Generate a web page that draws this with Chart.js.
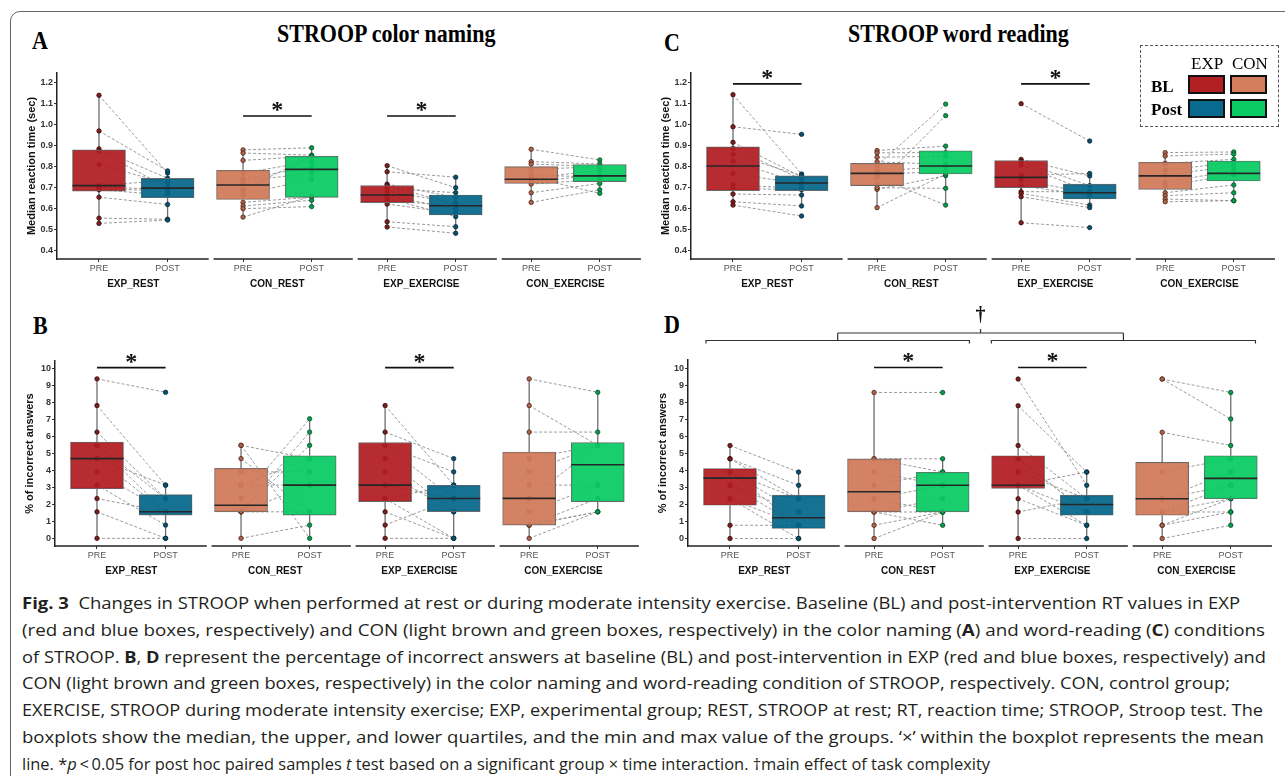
<!DOCTYPE html>
<html>
<head>
<meta charset="utf-8">
<script src="https://cdn.jsdelivr.net/npm/chart.js@4.4.0/dist/chart.umd.min.js"></script>
<style>
  body { margin: 0; background: #fff; width: 1285px; height: 776px; overflow: hidden; position: relative; font-family: 'Liberation Sans', Arial, sans-serif; }
  .frame { position: absolute; left: 10px; top: 11px; width: 1300px; height: 775px; border: 1px solid #666; border-radius: 10px; }
  .chart { position: absolute; }
  .serif { position: absolute; font-family: 'Liberation Serif', 'Times New Roman', serif; font-weight: bold; font-size: 22px; line-height: 22px; color: #000; white-space: nowrap; transform: scaleY(1.12); transform-origin: left bottom; }
  .legend { position: absolute; left: 1140px; top: 45px; width: 137px; height: 80px; border: 1.5px dashed #555; }
  .lg { position: absolute; font-family: 'Liberation Serif', 'Times New Roman', serif; font-size: 17px; line-height: 17px; color: #000; }
  .sw { position: absolute; width: 33px; height: 15px; border: 2px solid #111; }
  .cl { position: absolute; left: 22px; white-space: nowrap; font-family: 'Open Sans', 'Noto Sans', sans-serif; font-size: 16px; line-height: 22px; color: #231f20; transform-origin: left center; }
  .cl b { font-weight: 700; }
</style>
</head>
<body>
<div class="frame"></div>

<div class="serif" style="left:32px;top:31px">A</div>
<div class="serif" style="left:277px;top:24px">STROOP color naming</div>
<div class="serif" style="left:664px;top:33px">C</div>
<div class="serif" style="left:848px;top:24px">STROOP word reading</div>
<div class="serif" style="left:33px;top:316px">B</div>
<div class="serif" style="left:664px;top:315px">D</div>

<div class="chart" style="left:18px;top:45px"><canvas id="chartA" width="627" height="250"></canvas></div>
<div class="chart" style="left:652px;top:45px"><canvas id="chartC" width="626" height="250"></canvas></div>
<div class="chart" style="left:16px;top:330px"><canvas id="chartB" width="627" height="252"></canvas></div>
<div class="chart" style="left:649px;top:300px"><canvas id="chartD" width="629" height="282"></canvas></div>

<div class="legend">
  <div class="lg" style="left:50px;top:9px">EXP</div>
  <div class="lg" style="left:91px;top:9px">CON</div>
  <div class="lg" style="left:10px;top:32px;font-weight:bold">BL</div>
  <div class="lg" style="left:10px;top:55px;font-weight:bold">Post</div>
  <div class="sw" style="left:47px;top:29px;background:#b22024"></div>
  <div class="sw" style="left:89px;top:29px;background:#d27e5c"></div>
  <div class="sw" style="left:47px;top:53px;background:#076a8e"></div>
  <div class="sw" style="left:89px;top:53px;background:#0bcb65"></div>
</div>

<div id="caption">
  <div class="cl" data-w="1218"><b>Fig. 3</b>&nbsp; Changes in STROOP when performed at rest or during moderate intensity exercise. Baseline (BL) and post-intervention RT values in EXP</div>
  <div class="cl" data-w="1243">(red and blue boxes, respectively) and CON (light brown and green boxes, respectively) in the color naming (<b>A</b>) and word-reading (<b>C</b>) conditions</div>
  <div class="cl" data-w="1244">of STROOP. <b>B</b>, <b>D</b> represent the percentage of incorrect answers at baseline (BL) and post-intervention in EXP (red and blue boxes, respectively) and</div>
  <div class="cl" data-w="1208">CON (light brown and green boxes, respectively) in the color naming and word-reading condition of STROOP, respectively. CON, control group;</div>
  <div class="cl" data-w="1241">EXERCISE, STROOP during moderate intensity exercise; EXP, experimental group; REST, STROOP at rest; RT, reaction time; STROOP, Stroop test. The</div>
  <div class="cl" data-w="1242">boxplots show the median, the upper, and lower quartiles, and the min and max value of the groups. ‘×’ within the boxplot represents the mean</div>
  <div class="cl" data-w="968">line. *<i>p</i>&thinsp;&lt;&thinsp;0.05 for post hoc paired samples <i>t</i> test based on a significant group × time interaction. †main effect of task complexity</div>
</div>

<script>
'use strict';

const groups = ['EXP_REST', 'CON_REST', 'EXP_EXERCISE', 'CON_EXERCISE'];
const times = ['PRE', 'POST'];
const rtTicks = [0.4, 0.5, 0.6, 0.7, 0.8, 0.9, 1.0, 1.1, 1.2];
const errTicks = [0, 1, 2, 3, 4, 5, 6, 7, 8, 9, 10];

// A - median RT, color naming (rows = groups, same subject order pre/post)
const colorRtPre = [
  [1.14, 0.97, 0.885, 0.875, 0.81, 0.71, 0.705, 0.70, 0.69, 0.655, 0.555, 0.53],
  [0.88, 0.865, 0.83, 0.77, 0.74, 0.73, 0.69, 0.668, 0.63, 0.613, 0.60, 0.56],
  [0.805, 0.776, 0.717, 0.697, 0.681, 0.662, 0.638, 0.622, 0.538, 0.513, 0.71, 0.65],
  [0.883, 0.824, 0.813, 0.787, 0.744, 0.729, 0.717, 0.676, 0.63, 0.75, 0.76]
];
const colorRtPost = [
  [0.77, 0.78, 0.745, 0.70, 0.72, 0.735, 0.69, 0.68, 0.665, 0.62, 0.55, 0.546],
  [0.89, 0.855, 0.85, 0.825, 0.80, 0.77, 0.85, 0.74, 0.655, 0.64, 0.61, 0.66],
  [0.70, 0.75, 0.654, 0.676, 0.629, 0.598, 0.614, 0.578, 0.514, 0.483, 0.62, 0.562],
  [0.832, 0.813, 0.80, 0.80, 0.784, 0.76, 0.74, 0.72, 0.69, 0.673, 0.75]
];
// [whisker low, q1, median, q3, whisker high]
const colorRtBoxPre = [[0.53, 0.684, 0.71, 0.88, 1.14], [0.56, 0.644, 0.713, 0.783, 0.88], [0.513, 0.629, 0.665, 0.71, 0.805], [0.63, 0.72, 0.74, 0.80, 0.883]];
const colorRtBoxPost = [[0.546, 0.652, 0.698, 0.744, 0.78], [0.61, 0.654, 0.787, 0.85, 0.89], [0.483, 0.57, 0.614, 0.665, 0.75], [0.673, 0.729, 0.756, 0.81, 0.832]];
const colorRtSig = [1, 2];

// C - median RT, word reading
const wordRtPre = [
  [1.143, 0.99, 0.916, 0.887, 0.859, 0.827, 0.768, 0.713, 0.697, 0.67, 0.633, 0.617],
  [0.877, 0.866, 0.845, 0.823, 0.805, 0.78, 0.765, 0.716, 0.692, 0.605, 0.75, 0.70],
  [1.10, 0.835, 0.824, 0.808, 0.759, 0.737, 0.708, 0.681, 0.673, 0.657, 0.533],
  [0.867, 0.851, 0.816, 0.784, 0.76, 0.724, 0.71, 0.676, 0.662, 0.646, 0.633]
];
const wordRtPost = [
  [0.765, 0.954, 0.752, 0.74, 0.757, 0.72, 0.717, 0.697, 0.69, 0.665, 0.613, 0.565],
  [0.898, 0.867, 0.85, 0.811, 1.098, 0.80, 0.776, 1.043, 0.757, 0.765, 0.617, 0.697],
  [0.922, 0.756, 0.71, 0.681, 0.768, 0.673, 0.665, 0.681, 0.617, 0.605, 0.51],
  [0.87, 0.86, 0.835, 0.819, 0.803, 0.784, 0.76, 0.713, 0.676, 0.638, 0.638]
];
const wordRtBoxPre = [[0.617, 0.686, 0.803, 0.894, 1.143], [0.605, 0.71, 0.768, 0.816, 0.877], [0.533, 0.70, 0.749, 0.829, 0.835], [0.633, 0.692, 0.756, 0.821, 0.867]];
const wordRtBoxPost = [[0.613, 0.686, 0.722, 0.756, 0.765], [0.617, 0.765, 0.803, 0.876, 0.898], [0.605, 0.646, 0.676, 0.717, 0.768], [0.638, 0.732, 0.768, 0.827, 0.87]];
const wordRtSig = [0, 2];

// B - % incorrect, color naming
const colorErrPre = [
  [9.38, 7.81, 6.25, 5.47, 5.47, 4.69, 4.69, 3.91, 3.13, 2.34, 1.56, 0],
  [5.47, 5.47, 4.69, 3.91, 3.13, 3.13, 2.34, 1.56, 1.56, 1.56, 1.56, 0],
  [7.81, 6.25, 5.47, 5.47, 4.69, 3.91, 3.13, 2.34, 2.34, 1.56, 0.78, 0],
  [9.38, 7.81, 6.25, 4.69, 3.91, 3.13, 1.56, 0.78, 0.78, 0, 2.34, 0.78]
];
const colorErrPost = [
  [8.59, 3.13, 2.34, 1.56, 2.34, 3.13, 1.56, 1.56, 0.78, 1.56, 0, 0],
  [4.69, 0, 1.56, 3.91, 3.13, 4.69, 7.03, 6.25, 5.47, 1.56, 3.13, 0.78],
  [3.13, 4.69, 3.91, 2.34, 1.56, 1.56, 2.34, 3.13, 0, 0, 2.34, 0],
  [8.59, 5.47, 6.25, 5.47, 5.47, 3.13, 3.13, 2.34, 1.56, 1.56, 5.47, 1.56]
];
const colorErrBoxPre = [[0, 2.92, 4.69, 5.66, 9.38], [0, 1.56, 1.95, 4.12, 5.47], [0, 2.16, 3.13, 5.63, 7.81], [0, 0.78, 2.35, 5.08, 9.38]];
const colorErrBoxPost = [[0, 1.37, 1.56, 2.57, 3.13], [0, 1.37, 3.13, 4.86, 7.03], [0, 1.57, 2.34, 3.12, 4.69], [1.56, 2.16, 4.33, 5.63, 8.59]];
const colorErrSig = [0, 2];

// D - % incorrect, word reading
const wordErrPre = [
  [5.47, 4.69, 4.69, 3.91, 3.91, 3.91, 3.13, 2.34, 2.34, 0.78, 0, 3.13],
  [8.59, 4.69, 3.91, 3.13, 2.34, 2.34, 1.56, 1.56, 0.78, 0, 4.69, 1.56],
  [9.38, 7.81, 5.47, 4.69, 3.91, 3.13, 3.13, 2.34, 1.56, 0, 3.13, 4.69],
  [9.38, 9.38, 6.25, 3.91, 2.34, 2.34, 1.56, 1.56, 0.78, 0.78, 0, 1.56]
];
const wordErrPost = [
  [3.91, 3.13, 2.34, 0.78, 1.56, 2.34, 1.56, 0.78, 0, 0.78, 0, 0.78],
  [8.59, 4.69, 3.13, 3.91, 3.13, 1.56, 2.34, 1.56, 1.56, 1.56, 3.91, 0.78],
  [3.13, 3.91, 2.34, 1.56, 2.34, 1.56, 0.78, 0.78, 2.34, 0, 3.91, 1.56],
  [8.59, 7.03, 5.47, 4.69, 3.91, 3.13, 2.34, 3.13, 1.56, 2.34, 0.78, 1.56]
];
const wordErrBoxPre = [[0, 1.96, 3.55, 4.12, 5.47], [0, 1.57, 2.75, 4.68, 8.59], [0, 2.95, 3.13, 4.87, 7.81], [0, 1.37, 2.34, 4.48, 6.25]];
const wordErrBoxPost = [[0, 0.59, 1.22, 2.55, 3.91], [0.78, 1.57, 3.13, 3.9, 4.69], [0, 1.37, 2.0, 2.55, 3.91], [0.78, 2.34, 3.54, 4.87, 8.59]];
const wordErrSig = [1, 2];


// layout of the facets on one linear x scale
const FACET_STEP = 2.1;
const BOX_HALF = 0.386;
const PX_PER_UNIT = 68.6;
const X_MIN = 0.388;
const Y_WIDTH = 34;
const X_HEIGHT = 36;

const boxFill = {
  exp: ['rgba(176,28,32,0.93)', 'rgba(4,102,138,0.93)'],
  con: ['rgba(208,122,88,0.93)', 'rgba(8,202,98,0.93)']
};
const dotFill = { exp: ['#861b1b', '#0a4f6c'], con: ['#b0634a', '#0a9a4d'] };
const dotLine = { exp: ['#2b0d0d', '#072a3a'], con: ['#4a2214', '#064d27'] };

function facetX(k, t) {
  return 1 + t + FACET_STEP * k;
}

const facetDecor = {
  id: 'facetDecor',
  afterDatasetsDraw(chart, args, opts) {
    const { ctx, chartArea } = chart;
    const x = chart.scales.x;
    const y = chart.scales.y;
    ctx.save();
    ctx.strokeStyle = '#222';
    ctx.lineWidth = 1.5;
    for (let k = 0; k < 4; k++) {
      let start = k === 0 ? x.min : 0.57 + FACET_STEP * k;
      let end = 2.6 + FACET_STEP * k;
      ctx.beginPath();
      ctx.moveTo(x.getPixelForValue(start), chartArea.bottom);
      ctx.lineTo(x.getPixelForValue(end), chartArea.bottom);
      ctx.stroke();
    }

    ctx.fillStyle = '#111';
    ctx.font = 'bold 24px "Liberation Serif", serif';
    ctx.textAlign = 'center';
    ctx.textBaseline = 'alphabetic';
    opts.sig.forEach(k => {
      ctx.fillText('*', x.getPixelForValue(facetX(k, 0.5)), y.getPixelForValue(opts.sigY) + 1);
    });

    if (opts.brackets) {
      let top = chartArea.top;
      let lo = top - 19.5;
      let hi = top - 27;
      ctx.strokeStyle = '#333';
      ctx.lineWidth = 1.2;
      let pairs = [[0.65, 4.49], [4.81, 8.66]];
      pairs.forEach(p => {
        let a = x.getPixelForValue(p[0]);
        let b = x.getPixelForValue(p[1]);
        ctx.beginPath();
        ctx.moveTo(a, lo + 3); ctx.lineTo(a, lo); ctx.lineTo(b, lo); ctx.lineTo(b, lo + 3);
        ctx.moveTo((a + b) / 2, lo); ctx.lineTo((a + b) / 2, hi);
        ctx.stroke();
      });
      let c1 = x.getPixelForValue((pairs[0][0] + pairs[0][1]) / 2);
      let c2 = x.getPixelForValue((pairs[1][0] + pairs[1][1]) / 2);
      let mid = (c1 + c2) / 2;
      ctx.beginPath();
      ctx.moveTo(c1, hi); ctx.lineTo(c2, hi);
      ctx.moveTo(mid, hi); ctx.lineTo(mid, hi - 4);
      ctx.stroke();
      ctx.font = 'bold 20px "Liberation Serif", serif';
      ctx.textBaseline = 'middle';
      ctx.fillText('†', mid, top - 44);
    }
    ctx.restore();
  }
};

function makePanel(id, p) {
  let canvas = document.getElementById(id);
  let pad = p.pad;
  let xMax = X_MIN + (canvas.width - pad.left - pad.right - Y_WIDTH) / PX_PER_UNIT;

  let whiskers = [];
  let pairs = [];
  let dots = [];
  let dotBg = [];
  let dotBorder = [];
  let boxes = [];
  let boxBg = [];
  let medians = [];
  let sigLines = [];

  for (let k = 0; k < groups.length; k++) {
    let g = k % 2 === 0 ? 'exp' : 'con';
    let series = [p.pre[k], p.post[k]];
    let stats = [p.boxPre[k], p.boxPost[k]];
    for (let t = 0; t < 2; t++) {
      let cx = facetX(k, t);
      let s = stats[t];
      whiskers.push({ x: cx, y: s[0] }, { x: cx, y: s[1] }, { x: cx, y: null },
        { x: cx, y: s[3] }, { x: cx, y: s[4] }, { x: cx, y: null });
      boxes.push({ x: cx, y: [s[1], s[3]] });
      boxBg.push(boxFill[g][t]);
      medians.push({ x: cx - BOX_HALF, y: s[2] }, { x: cx + BOX_HALF, y: s[2] }, { x: cx, y: null });
      series[t].forEach(v => {
        dots.push({ x: cx, y: v });
        dotBg.push(dotFill[g][t]);
        dotBorder.push(dotLine[g][t]);
      });
    }
    p.pre[k].forEach((v, i) => {
      pairs.push({ x: facetX(k, 0), y: v }, { x: facetX(k, 1), y: p.post[k][i] }, { x: facetX(k, 0), y: null });
    });
  }
  p.sig.forEach(k => {
    sigLines.push({ x: facetX(k, 0), y: p.sigY }, { x: facetX(k, 1), y: p.sigY }, { x: facetX(k, 0), y: null });
  });

  let xTicks = [];
  let xLabels = [];
  for (let k = 0; k < groups.length; k++) {
    xTicks.push(facetX(k, 0), facetX(k, 0.5), facetX(k, 1));
    xLabels.push(times[0], ['', groups[k]], times[1]);
  }

  let lineBase = { type: 'line', pointRadius: 0, spanGaps: false, tension: 0 };

  return new Chart(canvas, {
    type: 'bar',
    data: {
      datasets: [
        Object.assign({}, lineBase, { data: whiskers, borderColor: '#6e6e6e', borderWidth: 1.3, order: 6 }),
        Object.assign({}, lineBase, { data: pairs, borderColor: '#909090', borderWidth: 0.9, borderDash: [3, 2], order: 5 }),
        {
          type: 'line', data: dots, showLine: false, pointRadius: 2.2, pointBorderWidth: 0.8,
          pointBackgroundColor: dotBg, pointBorderColor: dotBorder, order: 4
        },
        {
          type: 'bar', data: boxes, backgroundColor: boxBg, borderColor: '#6a6a6a', borderWidth: 0.9,
          borderSkipped: false, barThickness: 53, order: 3
        },
        Object.assign({}, lineBase, { data: medians, borderColor: '#262626', borderWidth: 1.6, order: 2 }),
        Object.assign({}, lineBase, { data: sigLines, borderColor: '#111', borderWidth: 1.6, clip: false, order: 1 })
      ]
    },
    options: {
      responsive: false,
      animation: false,
      events: [],
      layout: { padding: pad },
      plugins: {
        legend: { display: false },
        tooltip: { enabled: false },
        facetDecor: { sig: p.sig, sigY: p.sigY, brackets: p.brackets }
      },
      scales: {
        x: {
          type: 'linear',
          min: X_MIN,
          max: xMax,
          offset: false,
          afterBuildTicks: s => { s.ticks = xTicks.map(v => ({ value: v })); },
          afterFit: s => { s.height = X_HEIGHT; },
          grid: {
            offset: false,
            drawOnChartArea: false,
            tickLength: 3,
            tickColor: ctx => (ctx.index % 3 === 1 ? 'rgba(0,0,0,0)' : '#333')
          },
          border: { display: false },
          ticks: {
            autoSkip: false,
            maxRotation: 0,
            padding: 1,
            callback: (v, i) => xLabels[i],
            color: ctx => (ctx.index % 3 === 1 ? '#111' : '#555'),
            font: ctx => (ctx.index % 3 === 1
              ? { family: 'Liberation Sans', size: 10, weight: 'bold', lineHeight: 1.4 }
              : { family: 'Liberation Sans', size: 9, weight: 'normal' })
          }
        },
        y: {
          min: p.yMin,
          max: p.yMax,
          afterBuildTicks: s => { s.ticks = p.yTicks.map(v => ({ value: v })); },
          afterFit: s => { s.width = Y_WIDTH; },
          grid: { drawOnChartArea: false, tickLength: 3, tickColor: '#333' },
          border: { display: true, color: '#222', width: 1.5 },
          ticks: {
            padding: 1,
            color: '#333',
            font: { family: 'Liberation Sans', size: 9, weight: 'bold' },
            callback: v => v.toFixed(p.decimals)
          },
          title: {
            display: true,
            text: p.yTitle,
            color: '#111',
            padding: { top: 2, bottom: 0 },
            font: { family: 'Liberation Sans', size: 11, weight: 'bold' }
          }
        }
      }
    },
    plugins: [facetDecor]
  });
}

makePanel('chartA', {
  pre: colorRtPre, post: colorRtPost, boxPre: colorRtBoxPre, boxPost: colorRtBoxPost,
  sig: colorRtSig, sigY: 1.041, yMin: 0.3605, yMax: 1.246, yTicks: rtTicks, decimals: 1,
  yTitle: 'Median reaction time (sec)', pad: { top: 28, left: 5, right: 5, bottom: 0 }
});
makePanel('chartC', {
  pre: wordRtPre, post: wordRtPost, boxPre: wordRtBoxPre, boxPost: wordRtBoxPost,
  sig: wordRtSig, sigY: 1.194, yMin: 0.3605, yMax: 1.246, yTicks: rtTicks, decimals: 1,
  yTitle: 'Median reaction time (sec)', pad: { top: 28, left: 5, right: 5, bottom: 0 }
});
makePanel('chartB', {
  pre: colorErrPre, post: colorErrPost, boxPre: colorErrBoxPre, boxPost: colorErrBoxPost,
  sig: colorErrSig, sigY: 10.04, yMin: -0.45, yMax: 10.43, yTicks: errTicks, decimals: 0,
  yTitle: '% of incorrect answers', pad: { top: 31, left: 5, right: 5, bottom: 0 }
});
makePanel('chartD', {
  pre: wordErrPre, post: wordErrPost, boxPre: wordErrBoxPre, boxPost: wordErrBoxPost,
  sig: wordErrSig, sigY: 10.06, yMin: -0.44, yMax: 10.5, yTicks: errTicks, decimals: 0,
  yTitle: '% of incorrect answers', pad: { top: 60, left: 5, right: 5, bottom: 0 }, brackets: true
});

// caption lines: fixed line breaks, each stretched to the width it has in the figure
let capLines = document.querySelectorAll('.cl');
capLines.forEach((el, i) => {
  el.style.top = (592 + 26.8 * i) + 'px';
  let w = el.getBoundingClientRect().width;
  el.style.transform = 'scaleX(' + (Number(el.dataset.w) / w).toFixed(4) + ')';
});
</script>
</body>
</html>
